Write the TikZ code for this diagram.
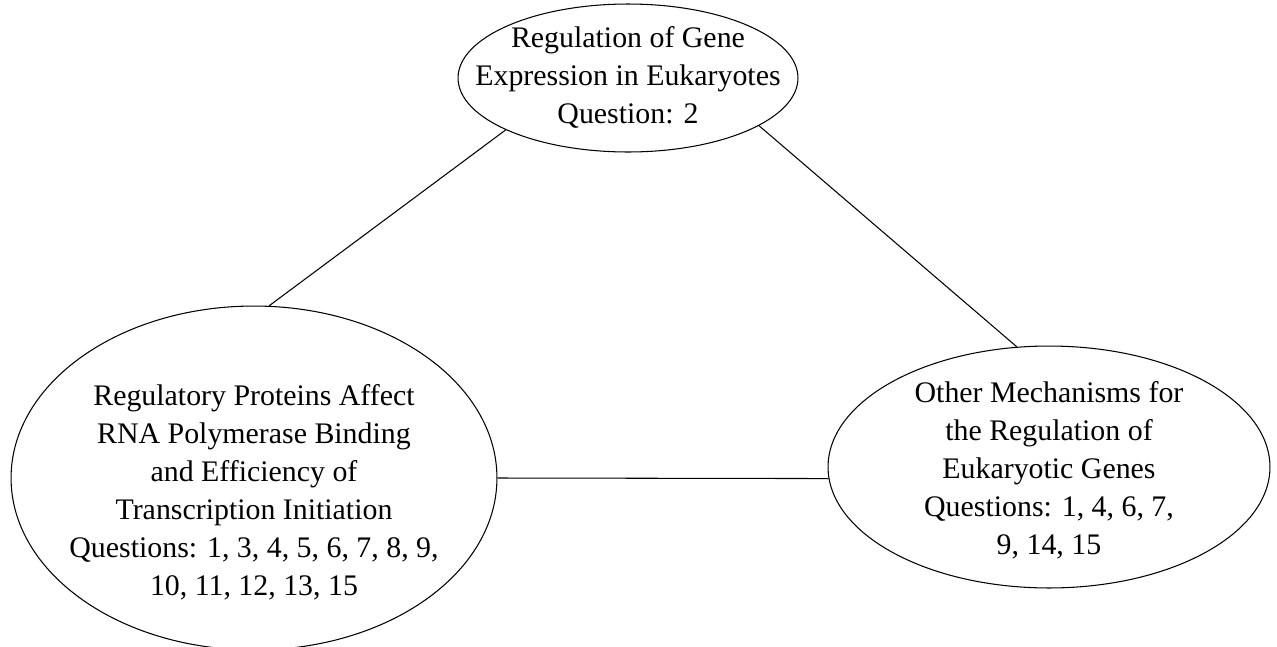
\documentclass[tikz,border=0pt]{standalone}
\usepackage{fontspec}
\setmainfont{Liberation Serif}
\usetikzlibrary{shapes.geometric, positioning}

\begin{document}
\begin{tikzpicture}[x=0.02cm, y=-0.02cm, line width=0.6pt,
    topic/.style={draw, ellipse, inner sep=0pt},
    txt/.style={align=center, font=\fontsize{17}{21.6}\selectfont}]

% 画布大小
\useasboundingbox (0,0) rectangle (1277,646);

% 三个椭圆
\node[topic, minimum width=6.8cm, minimum height=2.96cm] (gene) at (628,78) {};
\node[topic, minimum width=9.72cm, minimum height=6.88cm] (prot) at (254,478) {};
\node[topic, minimum width=8.84cm, minimum height=4.84cm] (other) at (1049,467) {};

% 文字
\node[txt] (genetxt) at (628,77) {Regulation of Gene\\Expression in Eukaryotes\\Question: 2};
\node[txt] (prottxt) at (254,492) {Regulatory Proteins Affect\\RNA Polymerase Binding\\and Efficiency of\\Transcription Initiation\\Questions: 1, 3, 4, 5, 6, 7, 8, 9,\\10, 11, 12, 13, 15};
\node[txt] (othertxt) at (1049,470) {Other Mechanisms for\\the Regulation of\\Eukaryotic Genes\\Questions: 1, 4, 6, 7,\\9, 14, 15};

% 连线
\draw (gene.203) -- (prot.85);
\draw (gene.340) -- (other.105);
\draw (prot.east) -- (other.183);

\end{tikzpicture}
\end{document}
